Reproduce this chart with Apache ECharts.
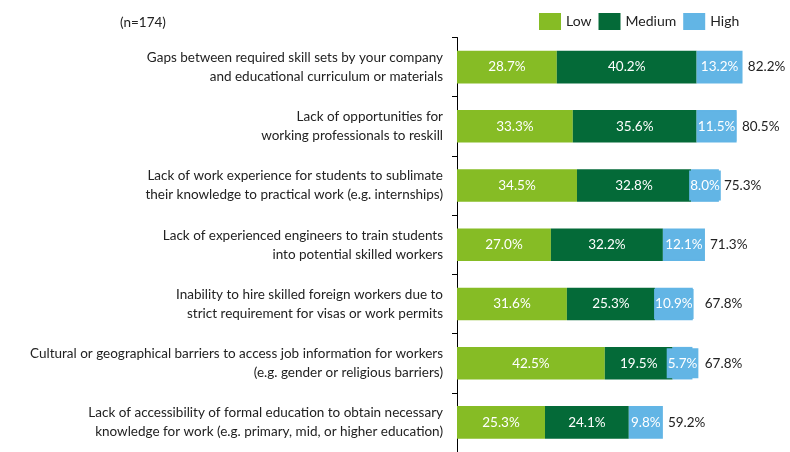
<!DOCTYPE html>
<html>
<head>
<meta charset="utf-8">
<script src="https://cdn.jsdelivr.net/npm/echarts@6/dist/echarts.min.js"></script>
<style>
  html, body { margin: 0; padding: 0; background: #fff; }
  #chart { width: 790px; height: 452px; }
</style>
</head>
<body>
<div id="chart"></div>
<script>
const categories = [
  "Gaps between required skill sets by your company\nand educational curriculum or materials",
  "Lack of opportunities for\nworking professionals to reskill",
  "Lack of work experience for students to sublimate\ntheir knowledge to practical work (e.g. internships)",
  "Lack of experienced engineers to train students\ninto potential skilled workers",
  "Inability to hire skilled foreign workers due to\nstrict requirement for visas or work permits",
  "Cultural or geographical barriers to access job information for workers\n(e.g. gender or religious barriers)",
  "Lack of accessibility of formal education to obtain necessary\nknowledge for work (e.g. primary, mid, or higher education)"
];
const lowValues = [28.7, 33.3, 34.5, 27.0, 31.6, 42.5, 25.3];
const mediumValues = [40.2, 35.6, 32.8, 32.2, 25.3, 19.5, 24.1];
const highValues = [13.2, 11.5, 8.0, 12.1, 10.9, 5.7, 9.8];
const totals = [82.2, 80.5, 75.3, 71.3, 67.8, 67.8, 59.2];

const FONT = "Lato";
const pct = (p) => p.value.toFixed(1) + "%";

const chart = echarts.init(document.getElementById("chart"));

const inside = {
  show: true,
  position: "inside",
  color: "#fff",
  fontSize: 13.5,
  fontFamily: FONT,
  formatter: pct,
};

const option = {
  animation: false,
  textStyle: { fontFamily: FONT },
  title: {
    text: "(n=174)",
    left: 115,
    top: 11,
    textStyle: { fontSize: 13.5, fontWeight: "normal", color: "#222", fontFamily: FONT },
  },
  legend: {
    data: ["Low", "Medium", "High"],
    left: 534,
    top: 8,
    itemWidth: 22,
    itemHeight: 17,
    itemGap: 7,
    icon: "rect",
    textStyle: { fontSize: 14, color: "#222", fontFamily: FONT },
  },
  grid: { left: 457, right: 20, top: 37.5, bottom: -5 },
  xAxis: {
    type: "value",
    min: 0,
    max: 90,
    show: false,
  },
  yAxis: {
    type: "category",
    data: categories,
    inverse: true,
    axisLine: { show: true, lineStyle: { color: "#000", width: 1 } },
    axisTick: { show: true, length: 5, lineStyle: { color: "#000" } },
    axisLabel: {
      fontSize: 13.5,
      color: "#222",
      lineHeight: 19,
      margin: 14,
      align: "right",
      fontFamily: FONT,
    },
  },
  series: [
    {
      name: "Low",
      type: "bar",
      stack: "total",
      barWidth: "55%",
      data: lowValues,
      itemStyle: { color: "#86BC25" },
      label: inside,
    },
    {
      name: "Medium",
      type: "bar",
      stack: "total",
      data: mediumValues,
      itemStyle: { color: "#046A38" },
      label: inside,
    },
    {
      name: "High",
      type: "bar",
      stack: "total",
      data: highValues,
      itemStyle: { color: "#62B5E5" },
      label: Object.assign({}, inside, {
        backgroundColor: "#62B5E5",
        padding: [8, 1],
      }),
    },
    {
      name: "Total",
      type: "bar",
      barWidth: "55%",
      barGap: "-100%",
      z: 1,
      data: totals.map((v, i) => ({
        value: v,
        label: { distance: i === 4 || i === 5 ? 12 : 5 },
      })),
      itemStyle: { color: "rgba(0,0,0,0)" },
      label: {
        show: true,
        position: "right",
        color: "#222",
        fontSize: 13.5,
        fontFamily: FONT,
        formatter: pct,
      },
      silent: true,
    },
  ],
};

chart.setOption(option);
</script>
</body>
</html>
